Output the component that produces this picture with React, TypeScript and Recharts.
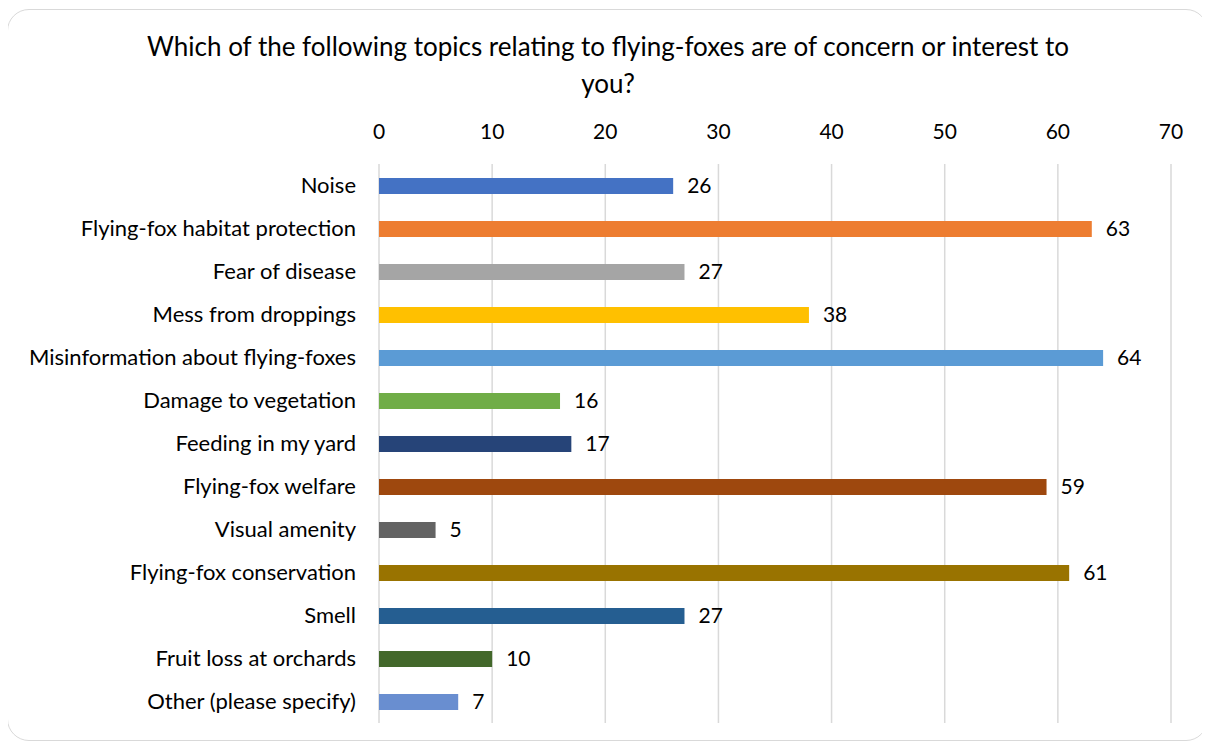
import React from "react";
import {
  BarChart,
  Bar,
  XAxis,
  YAxis,
  CartesianGrid,
  Cell,
  LabelList,
} from "recharts";

const TOPICS = [
  "Noise",
  "Flying-fox habitat protection",
  "Fear of disease",
  "Mess from droppings",
  "Misinformation about flying-foxes",
  "Damage to vegetation",
  "Feeding in my yard",
  "Flying-fox welfare",
  "Visual amenity",
  "Flying-fox conservation",
  "Smell",
  "Fruit loss at orchards",
  "Other (please specify)",
];

const COUNTS = [26, 63, 27, 38, 64, 16, 17, 59, 5, 61, 27, 10, 7];

const BAR_COLORS = [
  "#4472C4",
  "#ED7D31",
  "#A5A5A5",
  "#FFC000",
  "#5B9BD5",
  "#70AD47",
  "#264478",
  "#9E480E",
  "#636363",
  "#997300",
  "#255E91",
  "#43682B",
  "#698ED0",
];

const X_TICKS = [0, 10, 20, 30, 40, 50, 60, 70];

const TITLE_LINES = [
  "Which of the following topics relating to flying-foxes are of concern or interest to",
  "you?",
];

const FONT = "Lato, 'Open Sans', sans-serif";

export default function App() {
  const data = TOPICS.map((topic, i) => ({ topic, count: COUNTS[i] }));

  return (
    <div
      style={{
        position: "relative",
        width: 1201,
        height: 732,
        marginLeft: -1,
        marginTop: 1,
        border: "1.5px solid #d9d9d9",
        borderRadius: 22,
        boxSizing: "border-box",
        background: "#fff",
        fontFamily: FONT,
      }}
    >
      <div
        style={{
          position: "absolute",
          top: 18,
          left: 0,
          width: 1200,
          textAlign: "center",
          fontSize: 26,
          lineHeight: "37px",
          color: "#000",
        }}
      >
        {TITLE_LINES.map((line) => (
          <div key={line}>{line}</div>
        ))}
      </div>
      <div style={{ position: "absolute", left: 0, top: 0 }}>
        <BarChart
          width={1200}
          height={729}
          data={data}
          layout="vertical"
          margin={{ top: 114, right: 37, bottom: 16, left: 0 }}
          barCategoryGap={0}
        >
          <CartesianGrid horizontal={false} stroke="#d9d9d9" strokeWidth={1.5} />
          <XAxis
            type="number"
            orientation="top"
            domain={[0, 70]}
            ticks={X_TICKS}
            axisLine={false}
            tickLine={false}
            tickSize={0}
            tickMargin={25}
            height={40}
            interval={0}
            tick={{ fill: "#000", fontSize: 21, fontFamily: FONT }}
          />
          <YAxis
            type="category"
            dataKey="topic"
            width={371}
            axisLine={false}
            tickLine={false}
            tickSize={0}
            tickMargin={23}
            interval={0}
            tick={{ fill: "#000", fontSize: 22, fontFamily: FONT }}
          />
          <Bar dataKey="count" barSize={16} isAnimationActive={false}>
            {data.map((d, i) => (
              <Cell key={d.topic} fill={BAR_COLORS[i]} />
            ))}
            <LabelList
              dataKey="count"
              position="right"
              offset={14}
              fill="#000"
              fontSize={21}
              fontFamily={FONT}
            />
          </Bar>
        </BarChart>
      </div>
    </div>
  );
}
